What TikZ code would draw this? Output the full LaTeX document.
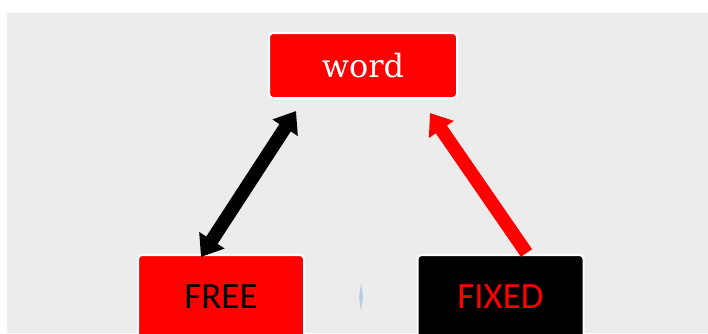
\documentclass[tikz,border=0pt]{standalone}
\usepackage{fontspec}
\usetikzlibrary{arrows.meta,calc}
\newfontfamily\boxsans{Carlito}
\newfontfamily\boxserif{DejaVu Serif}
\definecolor{panel}{HTML}{ECECEC}
\definecolor{tint}{HTML}{B8CBE6}
\tikzset{headtip/.tip={Triangle[length=20pt,width=29pt]}}
\begin{document}
\begin{tikzpicture}[x=1pt,y=1pt,
  card/.style={draw=white,line width=2pt,rounded corners=4pt,inner sep=0pt},
  lowcard/.style={card,minimum width=166pt,minimum height=84pt,
    font=\boxsans\fontsize{37}{44}\selectfont},
  bigarrow/.style={line width=13.5pt}
]
\useasboundingbox (0,0) rectangle (708,333);
\clip (0,0) rectangle (708,333);
% grey panel
\fill[panel] (7,0) rectangle (708,320);

% boxes
\node[card,fill=red,minimum width=188pt,minimum height=65pt,text=white,
  font=\boxserif\fontsize{32}{38}\selectfont] (word) at (363,267.5) {word};
\node[lowcard,fill=red,text=black] (free) at (221,36) {FREE};
\node[lowcard,fill=black,text=red] (fixed) at (500.5,36) {FIXED};

% small marker between the lower boxes
\fill[tint] (361,22) -- (363,36) -- (361,50) -- (359,36) -- cycle;

% connectors
\draw[bigarrow,black,headtip-headtip]
  ([xshift=-20pt,yshift=-3pt]free.north) -- ([xshift=-67pt,yshift=-12pt]word.south);
\draw[bigarrow,red,-headtip]
  ([xshift=26pt,yshift=1pt]fixed.north) -- ([xshift=67pt,yshift=-14pt]word.south);
\end{tikzpicture}
\end{document}
